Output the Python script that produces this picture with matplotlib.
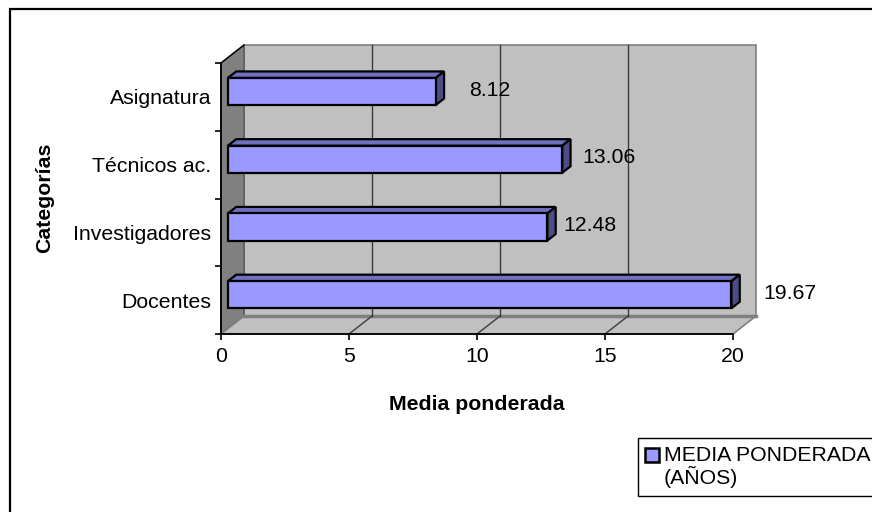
import matplotlib
matplotlib.use("Agg")
import matplotlib.pyplot as plt
from matplotlib.patches import Polygon, Rectangle

plt.rcParams["font.family"] = ["Liberation Sans", "DejaVu Sans"]

# Data (bottom to top)
categories = ["Docentes", "Investigadores", "Técnicos ac.", "Asignatura"]
values = [19.67, 12.48, 13.06, 8.12]
value_labels = ["19.67", "12.48", "13.06", "8.12"]
x_ticks = [0, 5, 10, 15, 20]
series_name = "MEDIA PONDERADA\n(AÑOS)"

# label nudges (data units), Excel places them a bit irregularly
label_dx = [1.5, 0.88, 1.04, 1.57]
label_dy = 0.1

# Colours
front_col = "#9999FF"
top_col = "#7070C0"
side_col = "#4D4D85"
wall_col = "#C0C0C0"
side_wall_col = "#808080"
grid_col = "#3C3C3C"

FS = 15.3

# 3D depth vector in data units, bar depth fractions
DX, DY = 0.9, 0.266
f0, f1 = 0.3, 0.66
h = 0.4

fig = plt.figure(figsize=(8.72, 5.12), dpi=100, facecolor="white")
W, H = 872, 512
ax = fig.add_axes([221 / W, 1 - 334 / H, 512 / W, 271 / H])
ax.set_facecolor("none")
ax.set_xlim(0, 20)
ax.set_ylim(-0.5, len(categories) - 0.5)
ytop = len(categories) - 0.5
ybot = -0.5

# back wall
ax.add_patch(Rectangle((DX, ybot + DY), 20, ytop - ybot, facecolor=wall_col,
                       edgecolor=side_wall_col, lw=1.2, clip_on=False, zorder=1))
# left wall
ax.add_patch(Polygon([(0, ybot), (0, ytop), (DX, ytop + DY), (DX, ybot + DY)],
                     closed=True, facecolor=side_wall_col, edgecolor="#555555",
                     lw=1.0, clip_on=False, zorder=1))
# floor
ax.add_patch(Polygon([(0, ybot), (20, ybot), (20 + DX, ybot + DY), (DX, ybot + DY)],
                     closed=True, facecolor=wall_col, edgecolor=side_wall_col,
                     lw=1.2, clip_on=False, zorder=1))
ax.plot([DX, 20 + DX], [ybot + DY, ybot + DY], color=side_wall_col, lw=2.5,
        clip_on=False, zorder=1.5)

# gridlines on back wall and floor
for t in x_ticks[1:-1]:
    ax.plot([t + DX, t + DX], [ybot + DY, ytop + DY], color=grid_col, lw=1.0,
            clip_on=False, zorder=2)
    ax.plot([t, t + DX], [ybot, ybot + DY], color=grid_col, lw=1.0,
            clip_on=False, zorder=2)

# bars: front faces via barh, then top and side faces
ypos = list(range(len(categories)))
ax.barh([y + f0 * DY for y in ypos], values, left=f0 * DX, height=h,
        color=front_col, edgecolor="black", linewidth=1.6, zorder=4)
for y, v in zip(ypos, values):
    yt = y + h / 2
    yb = y - h / 2
    top = [(f0 * DX, yt + f0 * DY), (v + f0 * DX, yt + f0 * DY),
           (v + f1 * DX, yt + f1 * DY), (f1 * DX, yt + f1 * DY)]
    side = [(v + f0 * DX, yb + f0 * DY), (v + f0 * DX, yt + f0 * DY),
            (v + f1 * DX, yt + f1 * DY), (v + f1 * DX, yb + f1 * DY)]
    ax.add_patch(Polygon(top, closed=True, facecolor=top_col, edgecolor="black",
                         lw=1.6, zorder=3, clip_on=False, joinstyle="miter"))
    ax.add_patch(Polygon(side, closed=True, facecolor=side_col, edgecolor="black",
                         lw=1.6, zorder=3, clip_on=False, joinstyle="miter"))

# value labels
for y, v, lab, dx in zip(ypos, values, value_labels, label_dx):
    ax.text(v + dx, y + label_dy, lab, ha="left", va="center", fontsize=FS,
            color="black", clip_on=False)

# axes styling
for s in ["top", "right"]:
    ax.spines[s].set_visible(False)
for s in ["left", "bottom"]:
    ax.spines[s].set_color("black")
    ax.spines[s].set_linewidth(1.3)
    ax.spines[s].set_zorder(5)

ax.set_xticks(x_ticks)
ax.set_xticklabels([str(t) for t in x_ticks], fontsize=FS)
ax.tick_params(axis="x", direction="out", length=4.3, width=1.2, pad=5)

ax.set_yticks([i - 0.5 for i in range(len(categories) + 1)])
ax.set_yticklabels([])
ax.set_yticks(ypos, minor=True)
ax.set_yticklabels(categories, minor=True, fontsize=FS)
ax.tick_params(axis="y", which="major", direction="out", length=4.3, width=1.2)
ax.tick_params(axis="y", which="minor", length=0, pad=7)

# top-left edge of the left wall
ax.plot([0, DX], [ytop, ytop + DY], color="black", lw=1.0, clip_on=False, zorder=5)

# axis titles
ax.text(0.5, (334 - 404) / 271, "Media ponderada", transform=ax.transAxes,
        ha="center", va="center", fontsize=FS, fontweight="bold")
ax.text((45 - 221) / 512, (334 - 198) / 271, "Categorías", transform=ax.transAxes,
        ha="center", va="center", rotation=90, fontsize=FS, fontweight="bold")

# outer chart border
fig.patches.append(Rectangle((10 / W, -0.1), 1.2, 1 - 9 / H + 0.1,
                             transform=fig.transFigure, fill=False,
                             edgecolor="black", lw=1.6))

# legend (manual, runs off the right edge like the original)
fig.patches.append(Rectangle((638 / W, 1 - 496 / H), 0.5, 58 / H,
                             transform=fig.transFigure, facecolor="white",
                             edgecolor="black", lw=1.0))
fig.patches.append(Rectangle((645 / W, 1 - 462 / H), 14 / W, 14 / H,
                             transform=fig.transFigure, facecolor=front_col,
                             edgecolor="black", lw=1.8))
fig.text(664 / W, 1 - 467 / H, series_name, ha="left", va="center",
         fontsize=FS, linespacing=1.05)

fig.savefig("out.png", dpi=100, facecolor="white")
